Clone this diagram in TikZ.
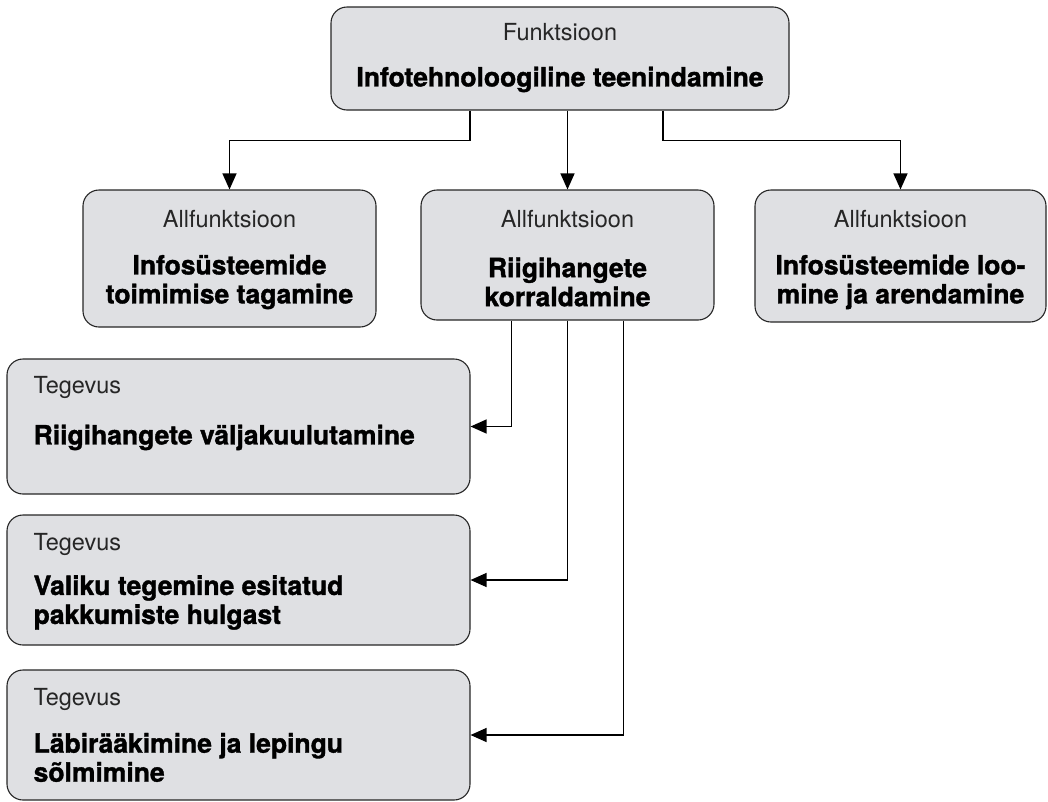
\documentclass[tikz,border=0pt]{standalone}
\usepackage{fontspec}
\setmainfont{TeX Gyre Heros}
\newfontfamily\heavyfont[FakeBold=1.3]{texgyreheros-bold.otf}
\usetikzlibrary{arrows.meta}
\definecolor{boxgrey}{HTML}{DFE0E3}
\tikzset{
  box/.style={draw=black!85, fill=boxgrey, rounded corners=16pt, line width=1.1pt, inner sep=0pt},
  kind/.style={font=\fontsize{23.5}{29}\selectfont, text=black!85, inner sep=0pt},
  title/.style={font=\fontsize{26.5}{29}\heavyfont, inner sep=0pt},
  conn/.style={line width=1.2pt, -{Triangle[length=16pt,width=14pt]}},
}
\begin{document}
\begin{tikzpicture}[x=1pt, y=-1pt]
    \useasboundingbox (0,0) rectangle (1048,801);
    % boxes
    \node[box, minimum width=458pt, minimum height=103pt] (fn) at (560,58.5) {};
    \node[box, minimum width=293pt, minimum height=137pt] (af1) at (229.5,258.5) {};
    \node[box, minimum width=293pt, minimum height=130pt] (af2) at (567.5,255) {};
    \node[box, minimum width=291pt, minimum height=132pt] (af3) at (900.5,256) {};
    \node[box, minimum width=463pt, minimum height=135pt] (teg1) at (238.5,426.5) {};
    \node[box, minimum width=463pt, minimum height=130pt] (teg2) at (238.5,580) {};
    \node[box, minimum width=463pt, minimum height=130pt] (teg3) at (238.5,735) {};
    % texts
    \node[kind] (fnkind) at ([yshift=-26pt]fn.north) {Funktsioon};
    \node[title] (fntitle) at ([yshift=-73pt]fn.north) {Infotehnoloogiline teenindamine};
    \foreach \b/\t in {af1/{Infosüsteemide\\toimimise tagamine},
                       af2/{Riigihangete\\korraldamine},
                       af3/{Infosüsteemide loo-\\mine ja arendamine}} {
        \node[kind] (\b kind) at ([yshift=-30pt]\b.north) {Allfunktsioon};
        \node[title, align=center] (\b title) at ([yshift=-92.5pt]\b.north) {\t};
    }
    \node[kind, anchor=west] (teg1kind) at ([xshift=27pt,yshift=-29pt]teg1.north west) {Tegevus};
    \node[title, anchor=west] (teg1title) at ([xshift=27pt,yshift=-79pt]teg1.north west) {Riigihangete väljakuulutamine};
    \node[kind, anchor=west] (teg2kind) at ([xshift=27pt,yshift=-30pt]teg2.north west) {Tegevus};
    \node[title, anchor=west, align=left] (teg2title) at ([xshift=27pt,yshift=-88pt]teg2.north west) {Valiku tegemine esitatud\\pakkumiste hulgast};
    \node[kind, anchor=west] (teg3kind) at ([xshift=27pt,yshift=-30pt]teg3.north west) {Tegevus};
    \node[title, anchor=west, align=left] (teg3title) at ([xshift=27pt,yshift=-88pt]teg3.north west) {Läbirääkimine ja lepingu\\sõlmimine};
    % connectors
    \draw[conn] ([xshift=-90pt]fn.south) -- ++(0,30) -| (af1.north);
    \draw[conn] (fn.south -| af2.north) -- (af2.north);
    \draw[conn] ([xshift=103pt]fn.south) -- ++(0,30) -| (af3.north);
    \draw[conn] ([xshift=-56pt]af2.south) |- (teg1.east);
    \draw[conn] (af2.south) |- (teg2.east);
    \draw[conn] ([xshift=56pt]af2.south) |- (teg3.east);
\end{tikzpicture}
\end{document}
